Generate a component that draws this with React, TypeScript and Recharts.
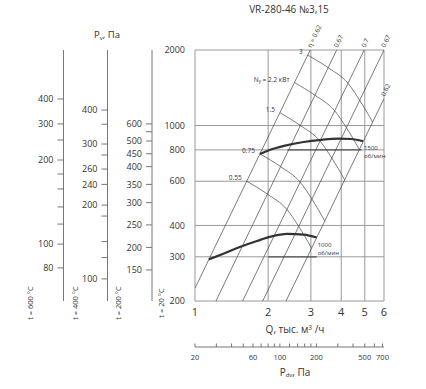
import React from 'react';
import { CartesianGrid, Line, LineChart, XAxis, YAxis } from 'recharts';

const FONT = "'Open Sans', sans-serif";
const INK = '#333';

// main axes
const qTicks = [1, 2, 3, 4, 5, 6];
const pTicks = [200, 300, 400, 600, 800, 1000, 2000];

// dynamic pressure scale under the Q axis
const pdvTicks = [20, 30, 40, 50, 60, 70, 80, 90, 100, 120, 140, 160, 180, 200, 300, 400, 500, 600, 700];
const pdvLabeled = [20, 60, 100, 200, 500, 700];

// temperature scales: label and the matching pressure on the 20 °C scale
const t200Labels = ['600', '', '500', '450', '400', '350', '300', '250', '200', '150'];
const t200At20 = [1015, 945, 868, 772, 686, 583, 493, 402, 327, 266];
const t400Labels = ['400', '', '300', '', '260', '240', '200', '', '', '', '100'];
const t400At20 = [1153, 1012, 844, 763, 671, 583, 482, 436, 345, 298, 245];
const t600Labels = ['400', '300', '', '200', '', '', '', '', '100', '80'];
const t600At20 = [1276, 1015, 876, 729, 641, 559, 474, 405, 337, 271];

// efficiency lines
const eta062a = [{ q: 1, p: 225 }, { q: 2.98, p: 2000 }];
const eta067a = [{ q: 1.22, p: 200 }, { q: 3.83, p: 2000 }];
const eta070 = [{ q: 1.57, p: 200 }, { q: 4.97, p: 2000 }];
const eta067b = [{ q: 1.9, p: 200 }, { q: 6, p: 2000 }];
const eta062b = [{ q: 2.37, p: 200 }, { q: 6, p: 1280 }];
const etaNames = ['η = 0.62', '0.67', '0.7', '0.67', '0.62'];

// motor power lines, kW
const n055 = [{ q: 1.633, p: 600 }, { q: 1.982, p: 534 }, { q: 2.39, p: 463 }, { q: 2.671, p: 397 }, { q: 3.019, p: 325 }];
const n075 = [{ q: 1.851, p: 771 }, { q: 2.247, p: 687 }, { q: 2.709, p: 595 }, { q: 3.027, p: 510 }, { q: 3.423, p: 417 }];
const n15 = [{ q: 2.236, p: 1125 }, { q: 2.713, p: 1001 }, { q: 3.272, p: 867 }, { q: 3.655, p: 743 }, { q: 4.132, p: 608 }];
const n22 = [{ q: 2.568, p: 1484 }, { q: 3.117, p: 1321 }, { q: 3.759, p: 1145 }, { q: 4.2, p: 981 }, { q: 4.748, p: 803 }];
const n3 = [{ q: 2.912, p: 1908 }, { q: 3.535, p: 1700 }, { q: 4.264, p: 1473 }, { q: 4.763, p: 1262 }, { q: 5.386, p: 1033 }];

// fan curves
const rpm1500 = [
  { q: 1.851, p: 771 }, { q: 2.1, p: 808 }, { q: 2.4, p: 836 }, { q: 2.8, p: 860 },
  { q: 3.3, p: 877 }, { q: 3.9, p: 887 }, { q: 4.4, p: 884 }, { q: 4.92, p: 866 },
];
const rpm1000 = [
  { q: 1.14, p: 293 }, { q: 1.3, p: 308 }, { q: 1.55, p: 330 }, { q: 1.8, p: 347 },
  { q: 2.05, p: 361 }, { q: 2.4, p: 370 }, { q: 2.8, p: 368 }, { q: 3.17, p: 358 },
];

// darker pieces of grid seen in the drawing
const dark800 = [{ q: 2.4, p: 800 }, { q: 4.85, p: 800 }];
const dark300 = [{ q: 2, p: 300 }, { q: 3.17, p: 300 }];

const px = (props: any) => ({
  x: props.x ?? props.viewBox?.x,
  y: props.y ?? props.viewBox?.y,
});

const etaLabel = (text: string) => (props: any) => {
  if (props.index !== 1) return null;
  const { x, y } = px(props);
  const tx = x + 1;
  const ty = y - 2;
  return (
    <text x={tx} y={ty} fontSize={6.5} fill={INK} fontFamily={FONT} transform={`rotate(-64 ${tx} ${ty})`}>
      {text}
    </text>
  );
};

const powerLabel = (text: React.ReactNode) => (props: any) => {
  if (props.index !== 0) return null;
  const { x, y } = px(props);
  return (
    <text x={x - 5} y={y - 1} textAnchor="end" fontSize={6.5} fill={INK} fontFamily={FONT}>
      {text}
    </text>
  );
};

const rpmLabel = (rpm: string, last: number) => (props: any) => {
  if (props.index !== last) return null;
  const { x, y } = px(props);
  return (
    <text fontSize={6} fill={INK} fontFamily={FONT}>
      <tspan x={x + 1} y={y + 9}>{rpm}</tspan>
      <tspan x={x + 1} y={y + 17}>об/мин</tspan>
    </text>
  );
};

const PdvTick = (props: any) => {
  const { x, y, payload } = props;
  return (
    <g>
      <line x1={x} x2={x} y1={y - 3.5} y2={y} stroke="#777" />
      {pdvLabeled.includes(payload.value) && (
        <text x={x} y={y + 13} textAnchor="middle" fontSize={7.5} fill={INK} fontFamily={FONT}>
          {payload.value}
        </text>
      )}
    </g>
  );
};

const sideTick = { fontSize: 9, fill: INK, fontFamily: FONT };

function sideAxis(id: string, width: number, at20: number[], labels: string[]) {
  return (
    <YAxis
      yAxisId={id}
      type="number"
      scale="log"
      domain={[200, 2000]}
      allowDataOverflow
      ticks={at20}
      interval={0}
      width={width}
      tickSize={6}
      tickMargin={4}
      stroke="#777"
      tick={sideTick}
      tickFormatter={(v: number) => labels[at20.indexOf(v)] ?? ''}
    />
  );
}

const thin = { stroke: '#444', strokeWidth: 0.7, dot: false, activeDot: false, isAnimationActive: false, xAxisId: 'a', yAxisId: 'p' } as const;

export default function App() {
  return (
    <div style={{ position: 'absolute', left: 0, top: 0, width: 426, height: 389, background: '#fff' }}>
      <LineChart width={426} height={389} margin={{ top: 50, right: 42, bottom: 0, left: 0 }} style={{ fontFamily: FONT }}>
        <CartesianGrid xAxisId="a" yAxisId="p" stroke="#999" strokeWidth={1} />
        <XAxis
          xAxisId="a"
          dataKey="q"
          type="number"
          scale="log"
          domain={[1, 6]}
          allowDataOverflow
          ticks={qTicks}
          interval={0}
          height={46}
          axisLine={false}
          tickLine={false}
          tickSize={0}
          tickMargin={7}
          tick={{ fontSize: 11, fill: INK, fontFamily: FONT }}
        />
        <XAxis
          xAxisId="b"
          dataKey="pdv"
          type="number"
          scale="log"
          domain={[20, 720]}
          allowDataOverflow
          ticks={pdvTicks}
          interval={0}
          height={42}
          stroke="#777"
          tickLine={false}
          tickSize={0}
          tickMargin={0}
          tick={PdvTick}
        />
        <YAxis
          yAxisId="p"
          type="number"
          scale="log"
          domain={[200, 2000]}
          allowDataOverflow
          ticks={pTicks}
          interval={0}
          width={43}
          axisLine={false}
          tickLine={false}
          tickSize={0}
          tickMargin={10}
          tick={sideTick}
        />
        {sideAxis('t200', 44.5, t200At20, t200Labels)}
        {sideAxis('t400', 44, t400At20, t400Labels)}
        {sideAxis('t600', 63.5, t600At20, t600Labels)}

        <Line {...thin} data={dark800} dataKey="p" stroke="#555" strokeWidth={1.3} />
        <Line {...thin} data={dark300} dataKey="p" stroke="#555" strokeWidth={1.3} />

        <Line {...thin} data={eta062a} dataKey="p" label={etaLabel(etaNames[0])} />
        <Line {...thin} data={eta067a} dataKey="p" label={etaLabel(etaNames[1])} />
        <Line {...thin} data={eta070} dataKey="p" label={etaLabel(etaNames[2])} />
        <Line {...thin} data={eta067b} dataKey="p" label={etaLabel(etaNames[3])} />
        <Line {...thin} data={eta062b} dataKey="p" label={etaLabel(etaNames[4])} />

        <Line {...thin} type="monotone" data={n055} dataKey="p" label={powerLabel('0.55')} />
        <Line {...thin} type="monotone" data={n075} dataKey="p" label={powerLabel('0.75')} />
        <Line {...thin} type="monotone" data={n15} dataKey="p" label={powerLabel('1.5')} />
        <Line
          {...thin}
          type="monotone"
          data={n22}
          dataKey="p"
          label={powerLabel(
            <>
              N<tspan fontSize={4.5} dy={1.5}>у</tspan>
              <tspan dy={-1.5}> = 2.2 кВт</tspan>
            </>
          )}
        />
        <Line {...thin} type="monotone" data={n3} dataKey="p" label={powerLabel('3')} />

        <Line {...thin} type="monotone" data={rpm1500} dataKey="p" stroke="#333" strokeWidth={2.2} label={rpmLabel('1500', rpm1500.length - 1)} />
        <Line {...thin} type="monotone" data={rpm1000} dataKey="p" stroke="#333" strokeWidth={2.2} label={rpmLabel('1000', rpm1000.length - 1)} />
      </LineChart>

      <svg width={426} height={389} style={{ position: 'absolute', left: 0, top: 0, pointerEvents: 'none' }} fontFamily={FONT} fill={INK}>
        <text x={289} y={12.5} textAnchor="middle" fontSize={10}>VR-280-46 №3,15</text>
        <text x={107} y={38} textAnchor="middle" fontSize={9.5}>
          P<tspan fontSize={6} dy={1.5}>v</tspan>
          <tspan dy={-1.5}>, Па</tspan>
        </text>
        <text x={295} y={333} textAnchor="middle" fontSize={10}>
          Q, тыс. м<tspan fontSize={6.5} dy={-3.5}>3</tspan>
          <tspan dy={3.5}> /ч</tspan>
        </text>
        <text x={295} y={375.5} textAnchor="middle" fontSize={10}>
          P<tspan fontSize={6} dy={1.5}>dv</tspan>
          <tspan dy={-1.5}>, Па</tspan>
        </text>
        <text x={33} y={303} textAnchor="middle" fontSize={7.5} transform="rotate(-90 33 303)">t = 600 °C</text>
        <text x={78} y={303} textAnchor="middle" fontSize={7.5} transform="rotate(-90 78 303)">t = 400 °C</text>
        <text x={121} y={303} textAnchor="middle" fontSize={7.5} transform="rotate(-90 121 303)">t = 200 °C</text>
        <text x={164} y={303} textAnchor="middle" fontSize={7.5} transform="rotate(-90 164 303)">t = 20 °C</text>
      </svg>
    </div>
  );
}
